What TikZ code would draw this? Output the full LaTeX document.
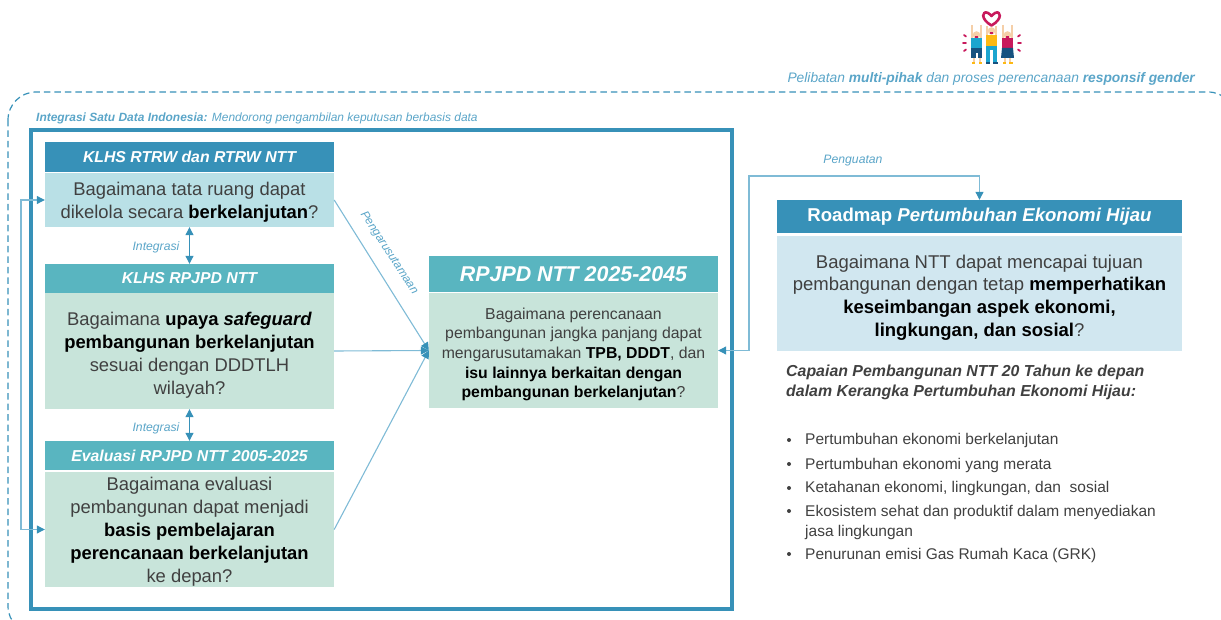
\documentclass[tikz,border=0pt]{standalone}
\usepackage{fontspec}
\setmainfont{Liberation Sans}
\usepackage{tikz}
\usetikzlibrary{arrows.meta}
\definecolor{deepblue}{HTML}{3791B8}
\definecolor{tealhead}{HTML}{59B5C0}
\definecolor{palecyan}{HTML}{B9E0E6}
\definecolor{palegreen}{HTML}{C8E4DA}
\definecolor{paleblue}{HTML}{D1E7F0}
\definecolor{linkblue}{HTML}{7FBBD6}
\definecolor{labelblue}{HTML}{5AA5C8}
\definecolor{bodygrey}{HTML}{404040}
\definecolor{crimson}{HTML}{C8195C}
\definecolor{navyblue}{HTML}{17527F}
\definecolor{skyblue}{HTML}{1CA5CF}
\definecolor{sunyellow}{HTML}{FDB913}
\definecolor{skin}{HTML}{F5CFA8}
\newcommand{\kuat}[1]{\textcolor{black}{\textbf{#1}}}
\newcommand{\turun}[1]{\rule{0pt}{#1}}
\begin{document}
\begin{tikzpicture}[x = 1pt, y = -1pt,
	headbox/.style = {minimum width=289pt,inner sep=0pt,text=white,font=\fontsize{15.8}{18}\selectfont\bfseries\itshape},
	bodybox/.style = {minimum width=289pt,inner sep=0pt,align=center,text=bodygrey,font=\fontsize{18.4}{23}\selectfont},
	midbody/.style = {minimum width=289pt,minimum height=115pt,inner sep=0pt,align=center,text=bodygrey,font=\fontsize{15.8}{19.7}\selectfont},
	linktext/.style = {text=labelblue,inner sep=0pt,font=\fontsize{12.2}{14}\selectfont\itshape},
	bullettext/.style = {anchor=west,inner sep=0pt,text=bodygrey,font=\fontsize{15.5}{20}\selectfont},
	dotmark/.style = {circle,fill=bodygrey,inner sep=0pt,minimum size=4pt},
	link/.style = {linkblue,line width=1.1pt},
	arm/.style = {skin,line width=2.2pt},
	spark/.style = {crimson,line width=1.8pt,line cap=round},
	tip/.style = {-{Stealth[length=8pt,width=8pt,inset=0pt,deepblue]}},
	twotip/.style = {{Stealth[length=8pt,width=8pt,inset=0pt,deepblue]}-{Stealth[length=8pt,width=8pt,inset=0pt,deepblue]}},
	]
	\clip (0,0) rectangle (1221,620);
	\useasboundingbox (0,0) rectangle (1221,620);

	% outer dashed frame and blue frame
	\draw[deepblue, line width=1.2pt, dash pattern=on 6.5pt off 4pt, rounded corners=28pt] (8,92) rectangle (1236,634);
	\draw[deepblue, line width=3.5pt] (31,130) rectangle (732,609);

	% captions
	\node[anchor=east,inner sep=0pt,text=labelblue,font=\fontsize{13.8}{16}\selectfont\itshape] (topcap) at (1195,78.5) {Pelibatan \textbf{multi-pihak} dan proses perencanaan \textbf{responsif gender}};
	\node[anchor=west,inner sep=0pt,text=labelblue,font=\fontsize{11.95}{14}\selectfont\itshape] (datacap) at (36,118) {\textbf{Integrasi Satu Data Indonesia:} Mendorong pengambilan keputusan berbasis data};

	% left column
	\node[headbox,fill=deepblue,minimum height=30pt] (RtrwHead) at (189.5,157) {KLHS RTRW dan RTRW NTT};
	\node[bodybox,fill=palecyan,minimum height=54pt] (RtrwBody) at (189.5,200) {\turun{17.5pt}Bagaimana tata ruang dapat\\dikelola secara \kuat{berkelanjutan}?};
	\node[headbox,fill=tealhead,minimum height=29pt] (KlhsHead) at (189.5,278.5) {KLHS RPJPD NTT};
	\node[bodybox,fill=palegreen,minimum height=116pt] (KlhsBody) at (189.5,351) {\turun{21pt}Bagaimana \kuat{upaya \textit{safeguard}}\\\kuat{pembangunan berkelanjutan}\\sesuai dengan DDDTLH\\wilayah?};
	\node[headbox,fill=tealhead,minimum height=29pt] (EvalHead) at (189.5,455.5) {Evaluasi RPJPD NTT 2005-2025};
	\node[bodybox,fill=palegreen,minimum height=115pt] (EvalBody) at (189.5,529.5) {\turun{18.5pt}Bagaimana evaluasi\\pembangunan dapat menjadi\\\kuat{basis pembelajaran}\\\kuat{perencanaan berkelanjutan}\\ke depan?};

	% middle box
	\node[headbox,fill=tealhead,minimum height=36pt,font=\fontsize{21.4}{25}\selectfont\bfseries\itshape] (MidHead) at (573.5,274) {RPJPD NTT 2025-2045};
	\node[midbody,fill=palegreen] (MidBody) at (573.5,350.5) {\turun{19.5pt}Bagaimana perencanaan\\pembangunan jangka panjang dapat\\mengarusutamakan \kuat{TPB, DDDT}, dan\\\kuat{isu lainnya berkaitan dengan}\\\kuat{pembangunan berkelanjutan}?};

	% right box
	\node[minimum width=405pt,minimum height=33pt,inner sep=0pt,fill=deepblue,text=white,font=\fontsize{18.6}{22}\selectfont\bfseries] (RoadHead) at (979.5,216.5) {Roadmap \textit{Pertumbuhan Ekonomi Hijau}};
	\node[minimum width=405pt,minimum height=115pt,inner sep=0pt,fill=paleblue,align=center,text=bodygrey,font=\fontsize{18.5}{22.8}\selectfont] (RoadBody) at (979.5,293.5) {\turun{21.5pt}Bagaimana NTT dapat mencapai tujuan\\pembangunan dengan tetap \kuat{memperhatikan}\\\kuat{keseimbangan aspek ekonomi,}\\\kuat{lingkungan, dan sosial}?};
	\node[anchor=north west,inner sep=0pt,align=left,text=bodygrey,font=\fontsize{15.9}{20}\selectfont\bfseries\itshape] (CapaianText) at (786,364.5) {Capaian Pembangunan NTT 20 Tahun ke depan\\dalam Kerangka Pertumbuhan Ekonomi Hijau:};

	\node[dotmark] (dotA) at (789,440) {};
	\node[dotmark] (dotB) at (789,464) {};
	\node[dotmark] (dotC) at (789,488) {};
	\node[dotmark] (dotD) at (789,511) {};
	\node[dotmark] (dotE) at (789,554) {};
	\node[bullettext] (itemA) at (805,440.5) {Pertumbuhan ekonomi berkelanjutan};
	\node[bullettext] (itemB) at (805,465) {Pertumbuhan ekonomi yang merata};
	\node[bullettext] (itemC) at (805,488.5) {Ketahanan ekonomi, lingkungan, dan\ \ sosial};
	\node[bullettext] (itemD) at (805,512) {Ekosistem sehat dan produktif dalam menyediakan};
	\node[bullettext] (itemDb) at (805,532) {jasa lingkungan};
	\node[bullettext] (itemE) at (805,555) {Penurunan emisi Gas Rumah Kaca (GRK)};

	% connectors
	\coordinate (LoopTurn) at (21,360);
	\coordinate (BackTurn) at (749,176);
	\draw[link,twotip] (RtrwBody.west) -| (LoopTurn) |- (EvalBody.west);
	\draw[deepblue,line width=1.1pt,twotip] (RtrwBody.south) -- (KlhsHead.north);
	\draw[deepblue,line width=1.1pt,twotip] (KlhsBody.south) -- (EvalHead.north);
	\draw[link,tip] (RtrwBody.east) -- (MidBody.west);
	\draw[link,tip] (KlhsBody.east) -- (MidBody.west);
	\draw[link,tip] (EvalBody.east) -- (MidBody.west);
	\draw[link,twotip] (MidBody.east) -| (BackTurn) -| (RoadHead.north);

	\node[linktext] (LabelA) at (156,247) {Integrasi};
	\node[linktext] (LabelB) at (156,428) {Integrasi};
	\node[linktext] (LabelC) at (853,161) {Penguatan};
	\node[linktext,font=\fontsize{11.8}{14}\selectfont\itshape,rotate=-57] (LabelD) at (389,253) {Pengarusutamaan};

	% icon
	\draw[crimson,line width=2.6pt,line join=round] (991.5,25.5) .. controls (980,19) and (982,10) .. (988,13) .. controls (990,14) and (991.5,16) .. (991.5,16) .. controls (991.5,16) and (993,14) .. (995,13) .. controls (1001,10) and (1003,19) .. (991.5,25.5) -- cycle;
	\draw[arm] (972,25) -- (972,38);
	\draw[arm] (981,25) -- (981,38);
	\draw[arm] (987,26) -- (987,35);
	\draw[arm] (996,26) -- (996,35);
	\draw[arm] (1003,25) -- (1003,38);
	\draw[arm] (1012,25) -- (1012,38);
	\fill[skin] (976.5,35) circle (3.8pt);
	\fill[skin] (991.5,31) circle (3.8pt);
	\fill[skin] (1007.5,35) circle (3.8pt);
	\fill[crimson] (975,36) rectangle (978,38);
	\fill[crimson] (990,32) rectangle (993,34);
	\fill[crimson] (1006,36) rectangle (1009,38);
	\fill[skyblue] (971,38) rectangle (982,48);
	\fill[navyblue] (971,48) rectangle (982,53);
	\fill[navyblue] (971,53) rectangle (975.5,58);
	\fill[navyblue] (977.5,53) rectangle (982,58);
	\fill[skin] (972.5,58) rectangle (974.5,62);
	\fill[skin] (978.5,58) rectangle (980.5,62);
	\fill[sunyellow] (971.5,62) rectangle (975,64.5);
	\fill[sunyellow] (978.5,62) rectangle (982,64.5);
	\fill[sunyellow] (986,35) rectangle (997,46);
	\fill[skyblue] (986,46) rectangle (997,50);
	\fill[skyblue] (986,50) rectangle (990,62);
	\fill[skyblue] (993,50) rectangle (997,62);
	\fill[navyblue] (985.5,62) rectangle (990,64.5);
	\fill[navyblue] (993,62) rectangle (997.5,64.5);
	\fill[crimson] (1002,38) rectangle (1013,48);
	\fill[navyblue] (1002,48) -- (1013,48) -- (1014,58) -- (1001,58) -- cycle;
	\fill[skin] (1004,58) rectangle (1006,62);
	\fill[skin] (1009,58) rectangle (1011,62);
	\fill[sunyellow] (1002.5,62) rectangle (1006,64.5);
	\fill[sunyellow] (1009,62) rectangle (1012.5,64.5);
	\draw[spark] (964,35) -- (966,36.5);
	\draw[spark] (963,43) -- (966,43);
	\draw[spark] (964,51) -- (966,49.5);
	\draw[spark] (1020,35) -- (1018,36.5);
	\draw[spark] (1021,43) -- (1018,43);
	\draw[spark] (1020,51) -- (1018,49.5);
\end{tikzpicture}
\end{document}
